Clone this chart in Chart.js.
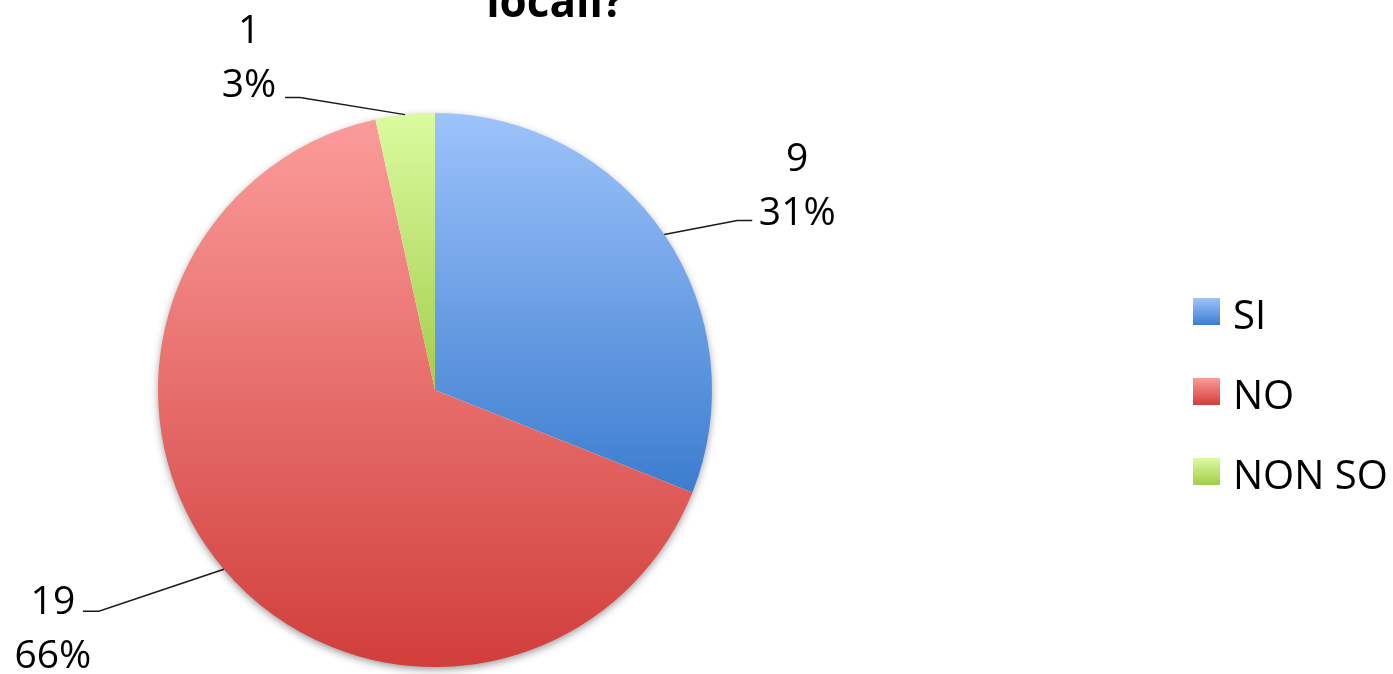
<!DOCTYPE html>
<html>
<head>
<meta charset="utf-8">
<script src="https://cdn.jsdelivr.net/npm/chart.js@4.4.1/dist/chart.umd.min.js"></script>
<style>
    html, body { margin: 0; padding: 0; background: #fff; overflow: hidden; }
    #wrap { position: relative; width: 1393px; height: 674px; }
</style>
</head>
<body>
<div id="wrap"><canvas id="pie_chart"></canvas></div>
<script>
const answers = ['SI', 'NO', 'NON SO'];
const counts = [9, 19, 1];
const titleText = 'locali?';

// each slice is shaded from a light top to a darker bottom
const topColours = ['#9dc3fb', '#fb9c9a', '#dbfb9f'];
const bottomColours = ['#3c7dcf', '#d13e3b', '#a3cd4b'];

// where each value label sits relative to the edge of its slice
const labelSpots = [
    {dx: 73, dy: -14, run: 15, tx: 45, base: -50},
    {dx: -125, dy: 42, run: -16, tx: -30, base: 3},
    {dx: -105, dy: -17, run: -15, tx: -36, base: -55}
];

const labelFont = '39px "Open Sans"';
const lineGap = 54;

function total() {
    return counts.reduce((a, b) => a + b, 0);
}

function sliceGradient(context) {
    const chart = context.chart;
    const area = chart.chartArea;
    const i = context.dataIndex;
    if (!area) return bottomColours[i];
    const cy = (area.top + area.bottom) / 2;
    const r = Math.min(area.right - area.left, area.bottom - area.top) / 2;
    const before = counts.slice(0, i).reduce((a, b) => a + b, 0);
    const a0 = -Math.PI / 2 + 2 * Math.PI * before / total();
    const a1 = a0 + 2 * Math.PI * counts[i] / total();
    const ys = [cy, cy + r * Math.sin(a0), cy + r * Math.sin(a1)];
    // include the top / bottom of the circle when the slice reaches them
    for (const a of [-Math.PI / 2, Math.PI / 2, 3 * Math.PI / 2]) {
        if (a >= a0 - 1e-9 && a <= a1 + 1e-9) ys.push(cy + r * Math.sin(a));
    }
    const g = chart.ctx.createLinearGradient(0, Math.min(...ys), 0, Math.max(...ys));
    g.addColorStop(0, topColours[i]);
    g.addColorStop(1, bottomColours[i]);
    return g;
}

const pieDecor = {
    id: 'pieDecor',
    beforeDatasetsDraw(chart) {
        // soft drop shadow under the whole pie
        const arc = chart.getDatasetMeta(0).data[0];
        const ctx = chart.ctx;
        ctx.save();
        ctx.shadowColor = 'rgba(0, 0, 0, 0.45)';
        ctx.shadowBlur = 8;
        ctx.shadowOffsetY = 3;
        ctx.beginPath();
        ctx.arc(arc.x, arc.y, arc.outerRadius - 1, 0, 2 * Math.PI);
        ctx.fillStyle = '#fff';
        ctx.fill();
        ctx.restore();
    },
    afterDatasetsDraw(chart) {
        const ctx = chart.ctx;
        const arcs = chart.getDatasetMeta(0).data;
        ctx.save();
        arcs.forEach((arc, i) => {
            const spot = labelSpots[i];
            const mid = (arc.startAngle + arc.endAngle) / 2;
            const ax = arc.x + arc.outerRadius * Math.cos(mid);
            const ay = arc.y + arc.outerRadius * Math.sin(mid);
            const ex = ax + spot.dx;
            const ey = ay + spot.dy;

            ctx.beginPath();
            ctx.moveTo(ax, ay);
            ctx.lineTo(ex, ey);
            ctx.lineTo(ex + spot.run, ey);
            ctx.strokeStyle = '#1a1a1a';
            ctx.lineWidth = 1.5;
            ctx.stroke();

            const cx = ex + spot.run + spot.tx;
            const pct = Math.round(counts[i] / total() * 100) + '%';
            ctx.font = labelFont;
            ctx.fillStyle = '#000';
            ctx.textAlign = 'center';
            ctx.textBaseline = 'alphabetic';
            ctx.fillText(String(counts[i]), cx, ey + spot.base);
            ctx.fillText(pct, cx, ey + spot.base + lineGap);
        });
        ctx.restore();
    },
    afterDraw(chart) {
        const ctx = chart.ctx;
        ctx.save();
        // title, only its last line fits on the canvas
        ctx.font = 'bold 44px "Open Sans"';
        ctx.fillStyle = '#000';
        ctx.textAlign = 'center';
        ctx.textBaseline = 'alphabetic';
        ctx.fillText(titleText, 555, 17);

        // legend
        ctx.font = '40px "Open Sans"';
        ctx.textAlign = 'left';
        chart.data.labels.forEach((label, i) => {
            const y = 298 + i * 80;
            const g = ctx.createLinearGradient(0, y, 0, y + 27);
            g.addColorStop(0, topColours[i]);
            g.addColorStop(1, bottomColours[i]);
            ctx.fillStyle = g;
            ctx.fillRect(1193, y, 27, 27);
            ctx.fillStyle = '#000';
            ctx.fillText(label, 1233, y + 31);
        });
        ctx.restore();
    }
};

document.addEventListener('DOMContentLoaded', () => {
    const ctx = document.getElementById('pie_chart').getContext('2d');
    new Chart(ctx, {
        type: 'pie',
        data: {
            labels: answers,
            datasets: [{
                data: counts,
                backgroundColor: sliceGradient,
                borderWidth: 0
            }]
        },
        options: {
            responsive: false,
            animation: false,
            events: [],
            layout: {
                padding: {left: 158, right: 681, top: 113, bottom: 7}
            },
            plugins: {
                legend: {display: false},
                tooltip: {enabled: false}
            }
        },
        plugins: [pieDecor]
    });
});
</script>
<script>
// size the canvas before the chart is created
const c = document.getElementById('pie_chart');
c.width = 1393;
c.height = 674;
</script>
</body>
</html>
